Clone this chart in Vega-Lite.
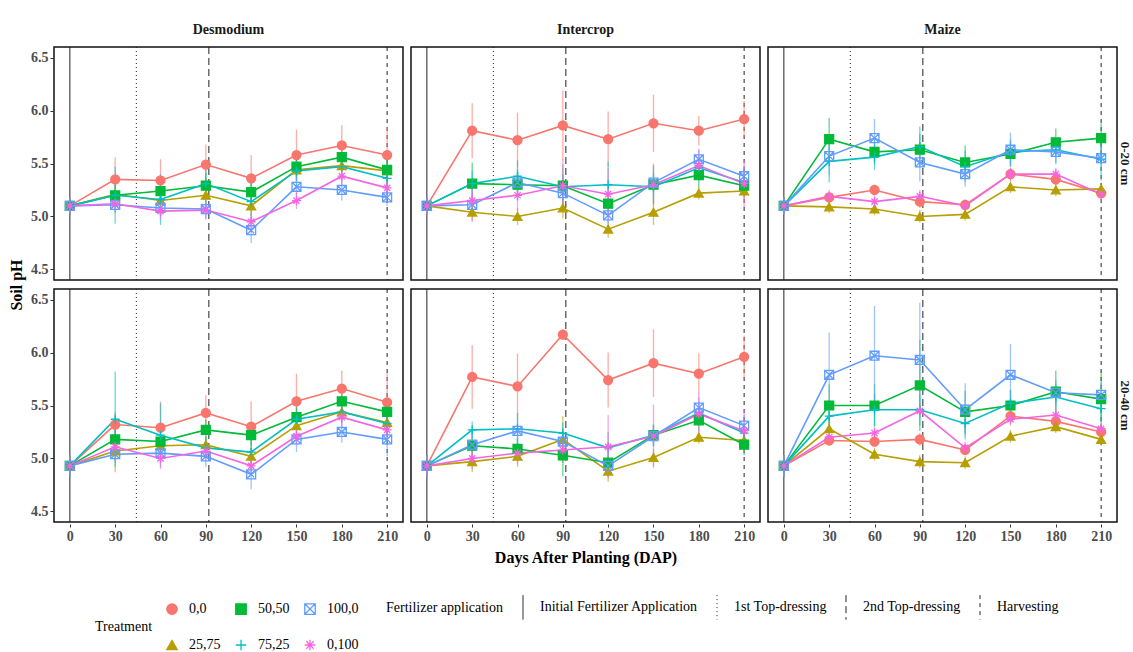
{
  "$schema": "https://vega.github.io/schema/vega-lite/v6.json",
  "background": "white",
  "padding": {"left": 9, "top": 23, "right": 0, "bottom": 0},
  "data": {"values": [
    {"C":"Desmodium","D":"0-20 cm","T":"0,0","DAP":[0,30,60,90,120,150,180,210],"pH":[5.10,5.35,5.34,5.49,5.36,5.58,5.67,5.58],"se":[0.08,0.21,0.20,0.19,0.22,0.24,0.19,0.27]},
    {"C":"Desmodium","D":"0-20 cm","T":"25,75","DAP":[0,30,60,90,120,150,180,210],"pH":[5.10,5.21,5.15,5.20,5.10,5.44,5.48,5.43],"se":[0.08,0.10,0.08,0.10,0.10,0.10,0.12,0.10]},
    {"C":"Desmodium","D":"0-20 cm","T":"50,50","DAP":[0,30,60,90,120,150,180,210],"pH":[5.10,5.20,5.24,5.29,5.23,5.47,5.56,5.44],"se":[0.08,0.10,0.10,0.12,0.10,0.10,0.10,0.10]},
    {"C":"Desmodium","D":"0-20 cm","T":"75,25","DAP":[0,30,60,90,120,150,180,210],"pH":[5.10,5.20,5.16,5.31,5.14,5.43,5.47,5.36],"se":[0.08,0.27,0.24,0.22,0.20,0.15,0.12,0.18]},
    {"C":"Desmodium","D":"0-20 cm","T":"100,0","DAP":[0,30,60,90,120,150,180,210],"pH":[5.10,5.11,5.08,5.07,4.87,5.28,5.25,5.18],"se":[0.08,0.08,0.08,0.10,0.12,0.10,0.10,0.08]},
    {"C":"Desmodium","D":"0-20 cm","T":"0,100","DAP":[0,30,60,90,120,150,180,210],"pH":[5.10,5.12,5.05,5.06,4.95,5.15,5.38,5.27],"se":[0.08,0.08,0.08,0.08,0.08,0.08,0.08,0.08]},
    {"C":"Intercrop","D":"0-20 cm","T":"0,0","DAP":[0,30,60,90,120,150,180,210],"pH":[5.10,5.81,5.72,5.86,5.73,5.88,5.81,5.92],"se":[0.08,0.26,0.26,0.33,0.26,0.27,0.14,0.17]},
    {"C":"Intercrop","D":"0-20 cm","T":"25,75","DAP":[0,30,60,90,120,150,180,210],"pH":[5.10,5.04,5.00,5.08,4.88,5.04,5.22,5.24],"se":[0.08,0.08,0.08,0.10,0.08,0.12,0.06,0.06]},
    {"C":"Intercrop","D":"0-20 cm","T":"50,50","DAP":[0,30,60,90,120,150,180,210],"pH":[5.10,5.31,5.30,5.29,5.12,5.30,5.39,5.29],"se":[0.08,0.20,0.15,0.20,0.10,0.18,0.12,0.12]},
    {"C":"Intercrop","D":"0-20 cm","T":"75,25","DAP":[0,30,60,90,120,150,180,210],"pH":[5.10,5.31,5.38,5.28,5.30,5.28,5.46,5.32],"se":[0.08,0.12,0.15,0.12,0.22,0.12,0.10,0.12]},
    {"C":"Intercrop","D":"0-20 cm","T":"100,0","DAP":[0,30,60,90,120,150,180,210],"pH":[5.10,5.11,5.32,5.22,5.01,5.32,5.54,5.38],"se":[0.08,0.10,0.10,0.15,0.10,0.10,0.10,0.10]},
    {"C":"Intercrop","D":"0-20 cm","T":"0,100","DAP":[0,30,60,90,120,150,180,210],"pH":[5.10,5.15,5.20,5.29,5.21,5.30,5.48,5.31],"se":[0.08,0.20,0.15,0.25,0.25,0.20,0.15,0.22]},
    {"C":"Maize","D":"0-20 cm","T":"0,0","DAP":[0,30,60,90,120,150,180,210],"pH":[5.10,5.18,5.25,5.14,5.11,5.40,5.35,5.22],"se":[0.08,0.05,0.05,0.06,0.05,0.06,0.06,0.05]},
    {"C":"Maize","D":"0-20 cm","T":"25,75","DAP":[0,30,60,90,120,150,180,210],"pH":[5.10,5.09,5.07,5.00,5.02,5.28,5.25,5.26],"se":[0.08,0.06,0.06,0.06,0.06,0.06,0.06,0.06]},
    {"C":"Maize","D":"0-20 cm","T":"50,50","DAP":[0,30,60,90,120,150,180,210],"pH":[5.10,5.73,5.61,5.63,5.51,5.59,5.70,5.74],"se":[0.08,0.20,0.12,0.15,0.16,0.12,0.13,0.14]},
    {"C":"Maize","D":"0-20 cm","T":"75,25","DAP":[0,30,60,90,120,150,180,210],"pH":[5.10,5.52,5.56,5.66,5.47,5.61,5.63,5.54],"se":[0.08,0.20,0.12,0.19,0.15,0.12,0.12,0.20]},
    {"C":"Maize","D":"0-20 cm","T":"100,0","DAP":[0,30,60,90,120,150,180,210],"pH":[5.10,5.57,5.74,5.51,5.40,5.63,5.61,5.55],"se":[0.08,0.18,0.18,0.18,0.12,0.16,0.12,0.12]},
    {"C":"Maize","D":"0-20 cm","T":"0,100","DAP":[0,30,60,90,120,150,180,210],"pH":[5.10,5.19,5.14,5.19,5.10,5.40,5.40,5.21],"se":[0.08,0.06,0.06,0.06,0.06,0.06,0.06,0.06]},
    {"C":"Desmodium","D":"20-40 cm","T":"0,0","DAP":[0,30,60,90,120,150,180,210],"pH":[4.93,5.32,5.29,5.43,5.30,5.54,5.66,5.53],"se":[0.10,0.12,0.25,0.17,0.24,0.26,0.17,0.28]},
    {"C":"Desmodium","D":"20-40 cm","T":"25,75","DAP":[0,30,60,90,120,150,180,210],"pH":[4.93,5.07,5.12,5.13,5.02,5.31,5.44,5.34],"se":[0.10,0.20,0.08,0.08,0.08,0.10,0.10,0.10]},
    {"C":"Desmodium","D":"20-40 cm","T":"50,50","DAP":[0,30,60,90,120,150,180,210],"pH":[4.93,5.18,5.16,5.27,5.22,5.39,5.54,5.44],"se":[0.10,0.10,0.10,0.10,0.10,0.10,0.10,0.10]},
    {"C":"Desmodium","D":"20-40 cm","T":"75,25","DAP":[0,30,60,90,120,150,180,210],"pH":[4.93,5.37,5.22,5.10,5.06,5.37,5.44,5.33],"se":[0.10,0.45,0.30,0.10,0.20,0.10,0.10,0.10]},
    {"C":"Desmodium","D":"20-40 cm","T":"100,0","DAP":[0,30,60,90,120,150,180,210],"pH":[4.93,5.04,5.05,5.02,4.85,5.18,5.25,5.18],"se":[0.10,0.08,0.08,0.10,0.14,0.12,0.10,0.16]},
    {"C":"Desmodium","D":"20-40 cm","T":"0,100","DAP":[0,30,60,90,120,150,180,210],"pH":[4.93,5.11,5.00,5.07,4.93,5.21,5.39,5.27],"se":[0.10,0.08,0.10,0.08,0.08,0.08,0.10,0.08]},
    {"C":"Intercrop","D":"20-40 cm","T":"0,0","DAP":[0,30,60,90,120,150,180,210],"pH":[4.93,5.77,5.68,6.17,5.74,5.90,5.80,5.96],"se":[0.10,0.30,0.31,0.05,0.26,0.32,0.19,0.20]},
    {"C":"Intercrop","D":"20-40 cm","T":"25,75","DAP":[0,30,60,90,120,150,180,210],"pH":[4.93,4.97,5.02,5.18,4.88,5.01,5.20,5.17],"se":[0.10,0.10,0.10,0.22,0.10,0.08,0.06,0.06]},
    {"C":"Intercrop","D":"20-40 cm","T":"50,50","DAP":[0,30,60,90,120,150,180,210],"pH":[4.93,5.12,5.09,5.03,4.96,5.22,5.36,5.13],"se":[0.10,0.15,0.10,0.20,0.10,0.10,0.10,0.10]},
    {"C":"Intercrop","D":"20-40 cm","T":"75,25","DAP":[0,30,60,90,120,150,180,210],"pH":[4.93,5.27,5.28,5.24,5.10,5.22,5.43,5.24],"se":[0.10,0.08,0.15,0.10,0.15,0.10,0.10,0.10]},
    {"C":"Intercrop","D":"20-40 cm","T":"100,0","DAP":[0,30,60,90,120,150,180,210],"pH":[4.93,5.13,5.26,5.16,4.93,5.21,5.48,5.31],"se":[0.10,0.10,0.12,0.10,0.10,0.10,0.10,0.10]},
    {"C":"Intercrop","D":"20-40 cm","T":"0,100","DAP":[0,30,60,90,120,150,180,210],"pH":[4.93,5.00,5.05,5.08,5.11,5.21,5.42,5.26],"se":[0.10,0.10,0.10,0.10,0.30,0.30,0.20,0.20]},
    {"C":"Maize","D":"20-40 cm","T":"0,0","DAP":[0,30,60,90,120,150,180,210],"pH":[4.93,5.17,5.16,5.18,5.08,5.40,5.35,5.25],"se":[0.10,0.05,0.05,0.06,0.05,0.06,0.06,0.05]},
    {"C":"Maize","D":"20-40 cm","T":"25,75","DAP":[0,30,60,90,120,150,180,210],"pH":[4.93,5.28,5.04,4.97,4.96,5.21,5.30,5.18],"se":[0.10,0.10,0.06,0.06,0.06,0.06,0.06,0.06]},
    {"C":"Maize","D":"20-40 cm","T":"50,50","DAP":[0,30,60,90,120,150,180,210],"pH":[4.93,5.50,5.50,5.69,5.44,5.50,5.63,5.56],"se":[0.10,0.20,0.20,0.43,0.20,0.15,0.20,0.26]},
    {"C":"Maize","D":"20-40 cm","T":"75,25","DAP":[0,30,60,90,120,150,180,210],"pH":[4.93,5.40,5.46,5.46,5.33,5.52,5.58,5.47],"se":[0.10,0.15,0.15,0.15,0.15,0.12,0.12,0.12]},
    {"C":"Maize","D":"20-40 cm","T":"100,0","DAP":[0,30,60,90,120,150,180,210],"pH":[4.93,5.79,5.97,5.93,5.46,5.79,5.62,5.60],"se":[0.10,0.40,0.47,0.54,0.25,0.29,0.12,0.12]},
    {"C":"Maize","D":"20-40 cm","T":"0,100","DAP":[0,30,60,90,120,150,180,210],"pH":[4.93,5.20,5.24,5.45,5.10,5.37,5.41,5.28],"se":[0.10,0.06,0.06,0.06,0.06,0.06,0.06,0.06]},
    {"C":"Desmodium","D":"0-20 cm","Event":["Initial Fertilizer Application","1st Top-dressing","2nd Top-dressing","Harvesting"],"EDAP":[0,44,92,210]},
    {"C":"Intercrop","D":"0-20 cm","Event":["Initial Fertilizer Application","1st Top-dressing","2nd Top-dressing","Harvesting"],"EDAP":[0,44,92,210]},
    {"C":"Maize","D":"0-20 cm","Event":["Initial Fertilizer Application","1st Top-dressing","2nd Top-dressing","Harvesting"],"EDAP":[0,44,92,210]},
    {"C":"Desmodium","D":"20-40 cm","Event":["Initial Fertilizer Application","1st Top-dressing","2nd Top-dressing","Harvesting"],"EDAP":[0,44,92,210]},
    {"C":"Intercrop","D":"20-40 cm","Event":["Initial Fertilizer Application","1st Top-dressing","2nd Top-dressing","Harvesting"],"EDAP":[0,44,92,210]},
    {"C":"Maize","D":"20-40 cm","Event":["Initial Fertilizer Application","1st Top-dressing","2nd Top-dressing","Harvesting"],"EDAP":[0,44,92,210]}
  ]},
  "facet": {
    "column": {"field": "C", "type": "nominal", "sort": ["Desmodium","Intercrop","Maize"], "title": "Days After Planting (DAP)",
      "header": {"labelOrient": "top", "titleOrient": "bottom", "titleFont": "Liberation Serif", "titleFontSize": 16, "titleFontWeight": "bold", "titleColor": "#000", "titlePadding": -3, "labelFont": "Liberation Serif", "labelFontSize": 14, "labelFontWeight": "bold", "labelColor": "#1a1a1a", "labelPadding": 8}},
    "row": {"field": "D", "type": "nominal", "sort": ["0-20 cm","20-40 cm"], "title": "Soil pH",
      "header": {"labelOrient": "right", "titleOrient": "left", "titleFont": "Liberation Serif", "titleFontSize": 16, "titleFontWeight": "bold", "titleColor": "#000", "titlePadding": -5, "labelAngle": 90, "labelFont": "Liberation Serif", "labelFontSize": 13, "labelFontWeight": "bold", "labelColor": "#1a1a1a", "labelPadding": 0}}
  },
  "spacing": {"column": 6, "row": 5},
  "spec": {
    "width": 349,
    "height": 233,
    "layer": [
      {
        "transform": [{"filter": "isValid(datum.Event)"}, {"flatten": ["Event","EDAP"]}],
        "mark": {"type": "rule", "color": "#222", "strokeWidth": 1},
        "encoding": {
          "x": {"field": "EDAP", "type": "quantitative", "scale": {"domain": [-10.5, 220.5], "nice": false, "zero": false}, "title": null, "axis": {"values": [0,30,60,90,120,150,180,210]}},
          "strokeDash": {"field": "Event", "type": "nominal",
            "scale": {"domain": ["Initial Fertilizer Application","1st Top-dressing","2nd Top-dressing","Harvesting"], "range": [[1,0],[1,3],[7,4],[4,4]]},
            "legend": {"title": "Fertilizer application", "orient": "none", "legendX": 332, "legendY": 547, "direction": "horizontal", "columns": 4, "titleOrient": "left", "titleAnchor": "middle", "titleBaseline": "middle", "titlePadding": 6, "symbolType": "M0,-1L0,1", "symbolSize": 600, "symbolStrokeColor": "#222", "symbolStrokeWidth": 1, "columnPadding": 6, "labelOffset": 4}}
        }
      },
      {
        "transform": [{"filter": "isValid(datum.T)"}, {"flatten": ["DAP","pH","se"]}],
        "mark": {"type": "errorbar", "thickness": 1.3, "rule": {"strokeOpacity": 0.6}},
        "encoding": {
          "x": {"field": "DAP", "type": "quantitative", "title": null},
          "y": {"field": "pH", "type": "quantitative", "scale": {"domain": [4.4, 6.6], "nice": false, "zero": false}, "title": null, "axis": {"values": [4.5,5,5.5,6,6.5], "format": ".1f"}},
          "yError": {"field": "se"},
          "color": {"field": "T", "type": "nominal", "title": "Treatment", "scale": {"domain": ["0,0","50,50","100,0","25,75","75,25","0,100"], "range": ["#F8766D","#00BA38","#619CFF","#B79F00","#00BFC4","#F564E3"]}}
        }
      },
      {
        "transform": [{"filter": "isValid(datum.T)"}, {"flatten": ["DAP","pH","se"]}],
        "mark": {"type": "line", "strokeWidth": 1.6},
        "encoding": {
          "x": {"field": "DAP", "type": "quantitative", "title": null},
          "y": {"field": "pH", "type": "quantitative", "title": null},
          "color": {"field": "T", "type": "nominal", "title": "Treatment"}
        }
      },
      {
        "transform": [{"filter": "isValid(datum.T)"}, {"flatten": ["DAP","pH","se"]}],
        "mark": {"type": "point", "filled": false, "size": 80, "strokeWidth": 1.3, "opacity": 1},
        "encoding": {
          "x": {"field": "DAP", "type": "quantitative", "title": null},
          "y": {"field": "pH", "type": "quantitative", "title": null},
          "color": {"field": "T", "type": "nominal", "title": "Treatment",
            "legend": {"title": "Treatment", "orient": "none", "legendX": 41, "legendY": 555, "direction": "horizontal", "columns": 3, "titleOrient": "left", "titleAnchor": "middle", "titleBaseline": "middle", "titlePadding": 12, "symbolSize": 110, "symbolOpacity": 1, "rowPadding": 20, "columnPadding": 12, "labelOffset": 10, "symbolStrokeWidth": 1.3}},
          "shape": {"field": "T", "type": "nominal", "title": "Treatment",
            "scale": {"domain": ["0,0","50,50","100,0","25,75","75,25","0,100"], "range": ["circle","square","M-1,-1L1,-1L1,1L-1,1ZM-1,-1L1,1M-1,1L1,-1","triangle-up","M-1,0L1,0M0,-1L0,1","M-1,0L1,0M0,-1L0,1M-0.7,-0.7L0.7,0.7M-0.7,0.7L0.7,-0.7"]},
            "legend": {"title": "Treatment", "orient": "none", "legendX": 41, "legendY": 555, "direction": "horizontal", "columns": 3, "titleOrient": "left", "titleAnchor": "middle", "titleBaseline": "middle", "titlePadding": 12, "symbolSize": 110, "symbolOpacity": 1, "rowPadding": 20, "columnPadding": 12, "labelOffset": 10, "symbolStrokeWidth": 1.3}},
          "fill": {"field": "T", "type": "nominal", "title": "Treatment",
            "scale": {"domain": ["0,0","50,50","100,0","25,75","75,25","0,100"], "range": ["#F8766D","#00BA38","transparent","#B79F00","transparent","transparent"]},
            "legend": {"title": "Treatment", "orient": "none", "legendX": 41, "legendY": 555, "direction": "horizontal", "columns": 3, "titleOrient": "left", "titleAnchor": "middle", "titleBaseline": "middle", "titlePadding": 12, "symbolSize": 110, "symbolOpacity": 1, "rowPadding": 20, "columnPadding": 12, "labelOffset": 10, "symbolStrokeWidth": 1.3}}
        }
      }
    ]
  },
  "config": {
    "font": "Liberation Serif",
    "view": {"stroke": "#111", "strokeWidth": 1.5},
    "axis": {"grid": false, "domain": false, "labelFont": "Liberation Serif", "labelFontSize": 14, "labelFontWeight": "bold", "labelColor": "#4d4d4d", "titleFont": "Liberation Serif", "titleFontSize": 15, "titleFontWeight": "bold", "titleColor": "#000", "tickColor": "#333", "tickSize": 3, "labelPadding": 2},
    "legend": {"labelFont": "Liberation Serif", "labelFontSize": 14, "labelColor": "#000", "titleFont": "Liberation Serif", "titleFontSize": 14, "titleFontWeight": "normal", "titleColor": "#000"}
  }
}
